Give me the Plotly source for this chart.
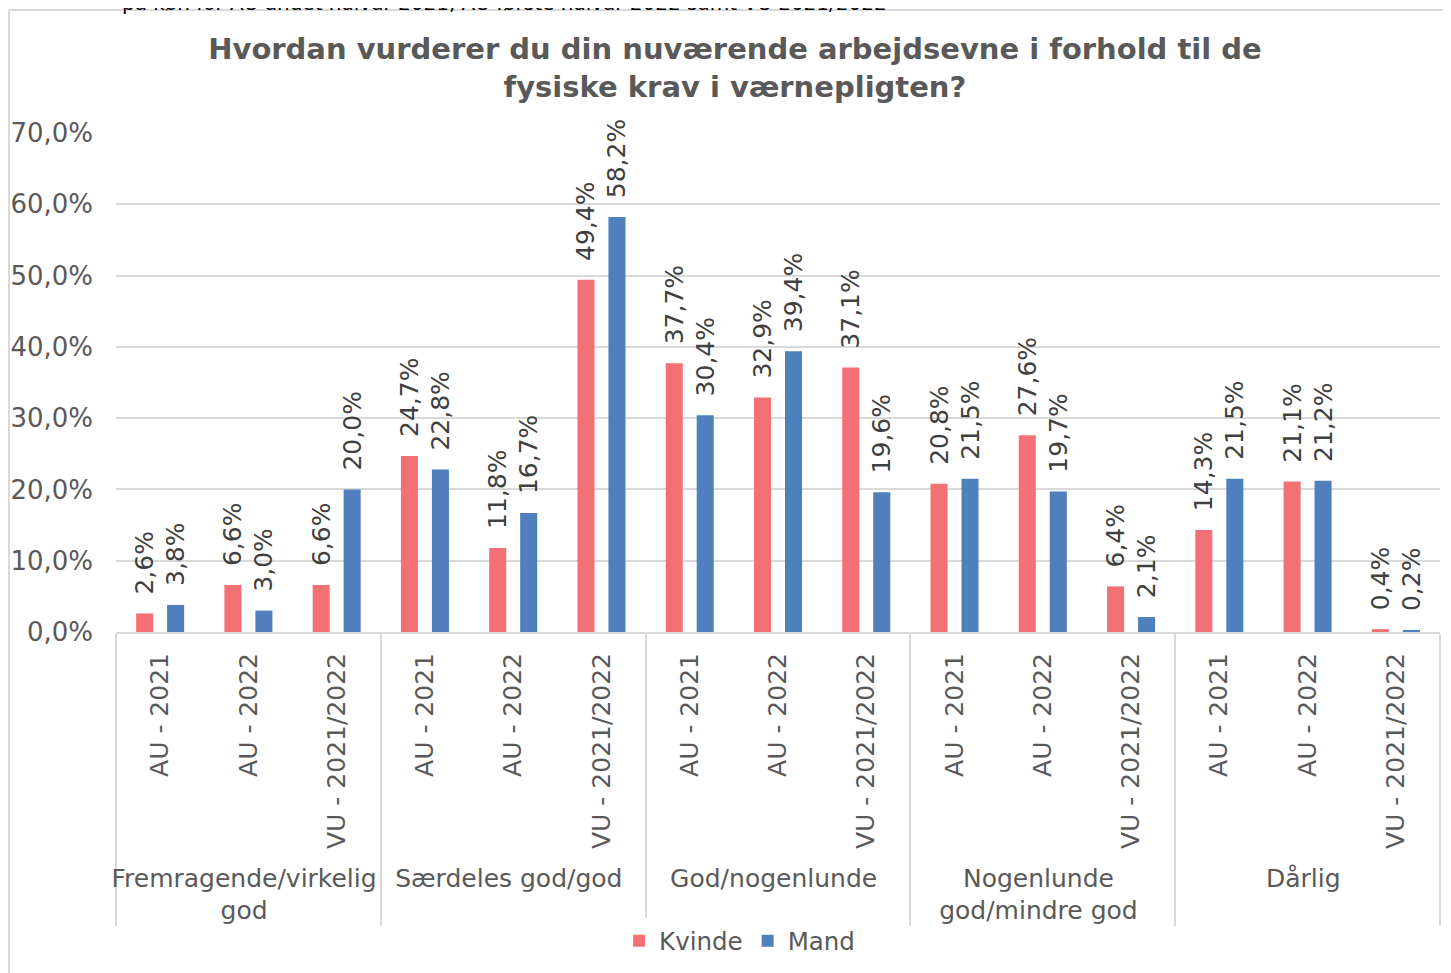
import plotly.graph_objects as go

groups = ["Fremragende/virkelig<br>god", "Særdeles god/god", "God/nogenlunde",
          "Nogenlunde<br>god/mindre god", "Dårlig"]
periods = ["AU - 2021", "AU - 2022", "VU - 2021/2022"]
kvinde = [2.6, 6.6, 6.6, 24.7, 11.8, 49.4, 37.7, 32.9, 37.1, 20.8, 27.6, 6.4, 14.3, 21.1, 0.4]
mand = [3.8, 3.0, 20.0, 22.8, 16.7, 58.2, 30.4, 39.4, 19.6, 21.5, 19.7, 2.1, 21.5, 21.2, 0.2]
y_ticks = [0, 10, 20, 30, 40, 50, 60, 70]
y_ticktext = ["0,0%", "10,0%", "20,0%", "30,0%", "40,0%", "50,0%", "60,0%", "70,0%"]
title_text = "Hvordan vurderer du din nuværende arbejdsevne i forhold til de<br>fysiske krav i værnepligten?"
caption_text = "på køn for AU andet halvår 2021, AU første halvår 2022 samt VU 2021/2022"

x_outer = [g for g in groups for _ in periods]
x_inner = [p for _ in groups for p in periods]

FONT = "DejaVu Sans"
GREY = "#595959"


def fmt(v):
    return "\u00a0\u00a0" + f"{v:.1f}".replace(".", ",") + "%"


fig = go.Figure()
for name, vals, col in [("Kvinde", kvinde, "#F37174"), ("Mand", mand, "#4F7FBC")]:
    fig.add_trace(go.Bar(
        name=name, x=[x_outer, x_inner], y=vals,
        marker=dict(color=col, line=dict(width=0)),
        text=[fmt(v) for v in vals], textposition="outside", textangle=-90,
        constraintext="none", cliponaxis=False,
        textfont=dict(family=FONT, size=25, color="#404040"),
        hoverinfo="skip",
    ))

fig.update_layout(
    width=1443, height=965,
    margin=dict(l=108, r=11, t=125, b=341, autoexpand=False),
    paper_bgcolor="white", plot_bgcolor="white",
    barmode="group", bargap=0.298, bargroupgap=0.45,
    font=dict(family=FONT, size=24.5, color=GREY),
    title=dict(text=title_text, x=0.4675, xref="paper", xanchor="center",
               y=1 - 51 / 965, yref="container", yanchor="top",
               font=dict(family=FONT, size=29, color=GREY, weight="bold")),
    showlegend=True,
    legend=dict(orientation="h", x=0.471, xanchor="center", y=-0.619, yanchor="middle",
                font=dict(family=FONT, size=24.5, color=GREY), traceorder="normal"),
    xaxis=dict(type="multicategory", tickangle=-90, showline=True, linecolor="#D9D9D9",
               linewidth=2, showgrid=False, ticks="", ticklabelstandoff=9,
               showdividers=True, dividercolor="#D9D9D9", dividerwidth=2,
               automargin=False,
               tickfont=dict(family=FONT, size=25, color=GREY)),
    yaxis=dict(range=[0, 70], tickvals=y_ticks, ticktext=y_ticktext, showgrid=True,
               gridcolor="#D9D9D9", gridwidth=2, zeroline=False, showline=False,
               ticks="", ticklabelstandoff=22, automargin=False,
               tickfont=dict(family=FONT, size=26, color=GREY)),
)

# outer chart frame (left and top edges)
fig.add_shape(type="line", xref="paper", yref="paper", x0=-0.0808, x1=-0.0808,
              y0=-1.0, y1=1.2465, line=dict(color="#D9D9D9", width=2))
fig.add_shape(type="line", xref="paper", yref="paper", x0=-0.0808, x1=1.2,
              y0=1.2465, y1=1.2465, line=dict(color="#D9D9D9", width=2))

# document caption above the chart (cut off at the top edge, as in the source)
fig.add_annotation(text=caption_text, xref="paper", yref="paper", x=0.003, y=1 + 116 / 499,
                   xanchor="left", yanchor="bottom", showarrow=False,
                   font=dict(family=FONT, size=20, color="#000000"))

fig.write_html("out.html")
